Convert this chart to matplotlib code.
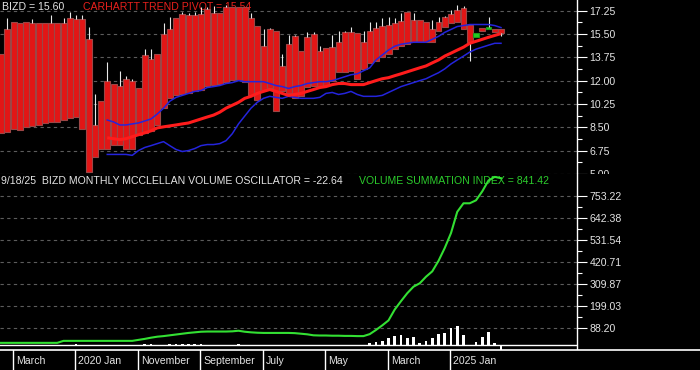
import numpy as np
import pandas as pd
import matplotlib
matplotlib.use('Agg')
import matplotlib.pyplot as plt
from matplotlib.patches import Rectangle

plt.rcParams['font.family'] = ['Liberation Sans', 'DejaVu Sans']

# ---------------- data ----------------
months = pd.date_range('2019-01-01', '2025-09-01', freq='MS')

body_top = [14.00, 15.85, 16.44, 16.36, 16.44, 16.36, 16.36, 16.36, 16.36, 16.36,
            16.36, 16.73, 16.66, 16.66, 15.11, 8.68, 10.46, 12.01, 11.79, 11.64,
            12.15, 12.01, 11.42, 13.93, 13.63, 14.00, 15.48, 15.85, 16.73, 17.03,
            16.95, 16.95, 17.03, 17.40, 17.10, 17.10, 17.55, 17.55, 17.55, 17.55,
            16.73, 16.14, 14.59, 15.85, 15.70, 13.11, 14.74, 15.33, 14.22, 15.26,
            15.48, 14.22, 14.44, 14.52, 14.89, 15.63, 15.63, 15.55, 14.89, 15.70,
            15.99, 16.14, 16.22, 16.36, 16.51, 17.18, 16.59, 16.59, 16.44, 15.92,
            16.44, 16.81, 17.03, 17.32, 17.47, 16.22, 15.55, 15.99, 16.07, 15.92,
            15.85]
body_bottom = [8.09, 8.17, 8.39, 8.32, 8.54, 8.61, 8.68, 8.83, 8.91, 8.91,
               9.05, 9.20, 9.28, 8.39, 5.14, 6.25, 6.84, 6.84, 7.21, 7.21,
               6.84, 6.84, 7.95, 8.09, 8.24, 8.68, 9.94, 10.68, 10.90, 10.97,
               11.05, 11.20, 11.34, 11.64, 11.71, 11.79, 11.93, 12.08, 12.08, 11.93,
               10.90, 10.53, 11.27, 11.42, 9.72, 11.20, 11.05, 10.68, 10.83, 11.56,
               11.64, 11.64, 11.64, 12.01, 12.67, 12.67, 12.75, 12.15, 12.89, 13.34,
               13.48, 13.78, 14.00, 14.37, 14.59, 14.74, 14.89, 14.89, 14.89, 14.89,
               15.70, 16.07, 16.36, 16.44, 15.85, 14.89, 15.26, 15.70, 15.85, 15.63,
               15.55]
highs = [14.00, 16.73, 16.44, 16.36, 16.44, 16.66, 16.36, 16.36, 16.95, 16.36,
         16.73, 17.18, 16.95, 16.95, 16.07, 10.97, 10.46, 13.41, 11.79, 12.75,
         12.38, 12.15, 11.42, 14.37, 14.37, 14.00, 16.36, 16.81, 16.73, 17.18,
         17.10, 17.18, 17.55, 17.55, 17.62, 17.10, 17.69, 17.55, 17.55, 17.55,
         17.10, 16.14, 15.85, 15.99, 15.70, 14.00, 15.40, 15.40, 14.22, 15.63,
         15.63, 14.59, 14.44, 15.40, 15.70, 15.77, 16.07, 15.55, 15.77, 16.44,
         16.44, 16.73, 16.81, 16.73, 17.10, 17.18, 17.10, 16.59, 16.44, 16.59,
         16.81, 16.88, 17.32, 17.69, 17.62, 16.22, 15.55, 15.99, 16.81, 15.92,
         15.85]
lows = [8.09, 8.17, 8.39, 8.32, 8.54, 8.61, 8.68, 8.83, 8.91, 8.91,
        9.05, 9.20, 9.28, 8.39, 5.14, 6.25, 6.84, 6.84, 7.21, 7.21,
        6.84, 6.84, 7.95, 8.09, 8.24, 8.68, 9.94, 10.68, 10.90, 10.97,
        11.05, 11.20, 11.34, 11.64, 11.71, 11.79, 11.93, 12.08, 12.08, 11.93,
        10.90, 10.53, 11.27, 11.42, 9.72, 11.20, 11.05, 10.68, 10.83, 11.56,
        11.64, 11.64, 11.64, 12.01, 12.67, 12.67, 12.75, 12.15, 12.89, 13.34,
        13.48, 13.78, 14.00, 14.37, 14.59, 14.74, 14.89, 14.89, 14.89, 14.89,
        15.70, 16.07, 16.36, 16.44, 15.85, 13.48, 15.26, 15.70, 15.85, 15.63,
        15.33]
up_month = [False] * 76 + [True, False, True, False, False]

band_start = 17  # first month index carrying the band / pivot lines
upper_band = [9.05, 8.91, 8.68, 8.68, 8.76, 8.83, 8.98, 9.13, 9.50, 9.94,
              10.46, 10.75, 10.90, 11.05, 11.20, 11.27, 11.49, 11.56, 11.64, 11.79,
              11.86, 12.01, 11.93, 11.93, 11.93, 11.93, 11.79, 11.64, 11.56, 11.42,
              11.56, 11.64, 11.79, 11.86, 11.93, 11.93, 12.01, 12.15, 12.30, 12.45,
              12.52, 12.75, 12.97, 13.56, 13.93, 14.30, 14.59, 14.74, 14.81, 14.89,
              14.89, 14.89, 15.11, 15.33, 15.63, 15.85, 16.07, 16.14, 16.22, 16.22,
              16.22, 16.22, 16.14, 15.99]
lower_band = [6.47, 6.47, 6.47, 6.47, 6.40, 6.76, 6.99, 7.13, 7.28, 7.43,
              7.13, 6.84, 6.69, 6.76, 6.91, 7.13, 7.21, 7.21, 7.28, 7.50,
              8.02, 8.76, 9.35, 9.94, 10.38, 10.68, 10.83, 10.75, 10.68, 10.83,
              10.75, 10.68, 10.68, 10.68, 10.75, 11.05, 11.12, 10.97, 11.05, 11.20,
              10.97, 10.83, 10.83, 10.83, 10.90, 11.12, 11.34, 11.56, 11.71, 11.86,
              12.01, 12.15, 12.38, 12.60, 12.89, 13.26, 13.56, 13.85, 14.15, 14.37,
              14.52, 14.67, 14.81, 14.81]
trend_pivot = [7.72, 7.65, 7.58, 7.65, 7.80, 7.95, 8.09, 8.24, 8.46, 8.54,
               8.61, 8.68, 8.76, 8.83, 8.98, 9.13, 9.28, 9.42, 9.64, 9.94,
               10.16, 10.38, 10.68, 10.83, 11.05, 11.20, 11.34, 11.20, 11.05, 10.90,
               10.97, 11.05, 11.20, 11.34, 11.49, 11.56, 11.71, 11.79, 11.79, 11.71,
               11.71, 11.71, 11.86, 12.01, 12.15, 12.23, 12.38, 12.52, 12.67, 12.82,
               12.97, 13.11, 13.34, 13.56, 13.85, 14.07, 14.30, 14.52, 14.81, 14.96,
               15.11, 15.26, 15.40, 15.54]

vsi = [12, 12, 12, 12, 12, 12, 12, 12, 12, 12,
       22, 22, 22, 22, 22, 22, 22, 22, 22, 22,
       22, 22, 27, 32, 38, 43, 46, 50, 54, 58,
       62, 65, 68, 69, 69, 69, 69, 70, 73, 68,
       65, 63, 62, 62, 62, 62, 62, 61, 58, 55,
       50, 49, 49, 48, 48, 47, 47, 46, 46, 56,
       77, 100, 125, 180, 222, 262, 295, 312, 345, 372,
       425, 490, 565, 672, 715, 715, 730, 775, 830, 848,
       841.42]
oscillator = [0, 0, 0, 0, 0, 0, 0, 0, 0, 0,
              0, 0, 5, 0, 0, 0, 0, 0, 0, 0,
              0, 0, 0, 5, 5, 0, 0, 4, 4, 4,
              4, 4, 4, 0, 0, 0, 0, 0, 5, 0,
              0, -5, 0, 0, 0, 0, 0, 0, 0, 0,
              -6, -6, 0, 0, -6, -6, 0, -4, 0, 12,
              17, 20, 34, 47, 50, 34, 39, 12, 22, 34,
              56, 63, 85, 97, 50, -5, 17, 42, 65, 13,
              -22.64]

price_ticks = [17.25, 15.50, 13.75, 12.00, 10.25, 8.50, 6.75, 5.00]
vsi_ticks = [753.22, 642.38, 531.54, 420.71, 309.87, 199.03, 88.20]
date_labels = ['March', '2020 Jan', 'November', 'September', 'July', 'May', 'March', '2025 Jan']
date_months = ['2019-03', '2020-01', '2020-11', '2021-09', '2022-07', '2023-05', '2024-03', '2025-01']

title_price = 'BIZD = 15.60'
title_pivot = 'CARHARTT TREND PIVOT = 15.54'
title_osc = '9/18/25  BIZD MONTHLY MCCLELLAN VOLUME OSCILLATOR = -22.64'
title_vsi = 'VOLUME SUMMATION INDEX = 841.42'

# ---------------- layout ----------------
W, H = 700, 370
fig = plt.figure(figsize=(7, 3.7), dpi=100, facecolor='black')


def frac(x0, y0, x1, y1):
    return [x0 / W, 1 - y1 / H, (x1 - x0) / W, (y1 - y0) / H]


ax1 = fig.add_axes(frac(0, 0, 577, 174))
ax2 = fig.add_axes(frac(0, 174, 577, 350))
ax3 = fig.add_axes(frac(0, 350, 700, 370))
ax1.set_zorder(1)
ax2.set_zorder(3)
ax3.set_zorder(3)
fig.add_artist(Rectangle((577.5 / W, 20 / H), 1, 176 / H, transform=fig.transFigure,
                         facecolor='black', edgecolor='none', zorder=2))

x = np.arange(len(months))
XL = (-0.16, 92.16)
TXT = '#e4e4e4'
GRID = '#5c5c5c'
FS = 7.6

for ax in (ax1, ax2):
    ax.set_facecolor('black')
    ax.set_xlim(*XL)
    for s in ('top', 'left', 'bottom'):
        ax.spines[s].set_visible(False)
    ax.spines['right'].set_color('white')
    ax.spines['right'].set_linewidth(1.0)
    ax.yaxis.tick_right()
    ax.tick_params(axis='y', which='major', direction='out', length=7.5, width=0.8,
                   colors='white', labelcolor=TXT, labelsize=FS, pad=1.5)
    ax.tick_params(axis='y', which='minor', direction='out', length=3.8, width=0.8,
                   colors='white')
    ax.tick_params(axis='x', which='both', bottom=False, labelbottom=False)
    ax.set_axisbelow(True)

# ---------------- upper panel ----------------
ax1.set_ylim(5.22, 18.06)
ax1.set_yticks(price_ticks)
ax1.set_yticklabels([f'{v:.2f}' for v in price_ticks])
ax1.set_yticks([(a + b) / 2 for a, b in zip(price_ticks[:-1], price_ticks[1:])], minor=True)
for v in price_ticks:
    ax1.axhline(v, color=GRID, lw=0.8, ls=(0, (3, 3)), zorder=0.5)

ax1.text(2 / 577, 1 - 1.5 / 174, title_price, transform=ax1.transAxes, color=TXT,
         fontsize=FS, va='top', ha='left', zorder=1)
ax1.text(83 / 577, 1 - 1.5 / 174, title_pivot, transform=ax1.transAxes, color='#e8201c',
         fontsize=FS, va='top', ha='left', zorder=1)

top = np.array(body_top)
bot = np.array(body_bottom)
face = ['#22cc22' if u else '#e21616' for u in up_month]
edge = ['#1a9a1a' if u else '#9c4646' for u in up_month]
ax1.bar(x, top - bot, bottom=bot, width=0.96, color=face, edgecolor=edge,
        linewidth=0.8, zorder=2)
hi = np.array(highs)
lo = np.array(lows)
m = hi > top + 0.01
ax1.vlines(x[m], top[m], hi[m], colors='#e8e8e8', lw=0.8, zorder=2.5)
m2 = lo < bot - 0.01
ax1.vlines(x[m2], lo[m2], bot[m2], colors='#e8e8e8', lw=0.8, zorder=2.5)

xb = np.arange(band_start, band_start + len(upper_band))
ax1.plot(xb, upper_band, color='#2424dc', lw=1.1, zorder=3)
ax1.plot(xb, lower_band, color='#2424dc', lw=1.1, zorder=3)
ax1.plot(xb, trend_pivot, color='#ff1c1c', lw=2.2, zorder=3.2, solid_capstyle='butt')

# ---------------- lower panel ----------------
ax2.set_ylim(-24.0, 862.5)
ax2.set_yticks(vsi_ticks)
ax2.set_yticklabels([f'{v:.2f}' for v in vsi_ticks])
ax2.set_yticks([(a + b) / 2 for a, b in zip(vsi_ticks[:-1], vsi_ticks[1:])], minor=True)
for v in vsi_ticks:
    ax2.axhline(v, color=GRID, lw=0.8, ls=(0, (3, 3)), zorder=0.5)
ax2.axhline(0, color='white', lw=1.0, zorder=2)

ax2.text(1 / 577, 1 - 2.5 / 176, title_osc, transform=ax2.transAxes, color=TXT,
         fontsize=FS, va='top', ha='left', zorder=1)
ax2.text(359 / 577, 1 - 2.5 / 176, title_vsi, transform=ax2.transAxes, color='#2ccc2c',
         fontsize=FS, va='top', ha='left', zorder=1)

ax2.bar(x, oscillator, width=0.42, color='white', linewidth=0, zorder=2.5)
ax2.plot(x, vsi, color='#33e033', lw=1.5, zorder=3)

# ---------------- date band ----------------
ax3.set_facecolor('black')
ax3.set_xlim(XL[0], XL[0] + W / 6.25)
ax3.set_ylim(0, 1)
for s in ('left', 'right', 'bottom'):
    ax3.spines[s].set_visible(False)
ax3.spines['top'].set_color('white')
ax3.spines['top'].set_linewidth(1.2)
ax3.set_xticks([])
ax3.set_yticks([])
for lab, mo in zip(date_labels, date_months):
    k = months.get_loc(pd.Timestamp(mo + '-01'))
    ax3.axvline(k - 0.15, color='white', lw=1.0)
    ax3.text(k + 0.35, 0.47, lab, color=TXT, fontsize=FS, va='center', ha='left')

fig.savefig('out.png', dpi=100, facecolor='black')
